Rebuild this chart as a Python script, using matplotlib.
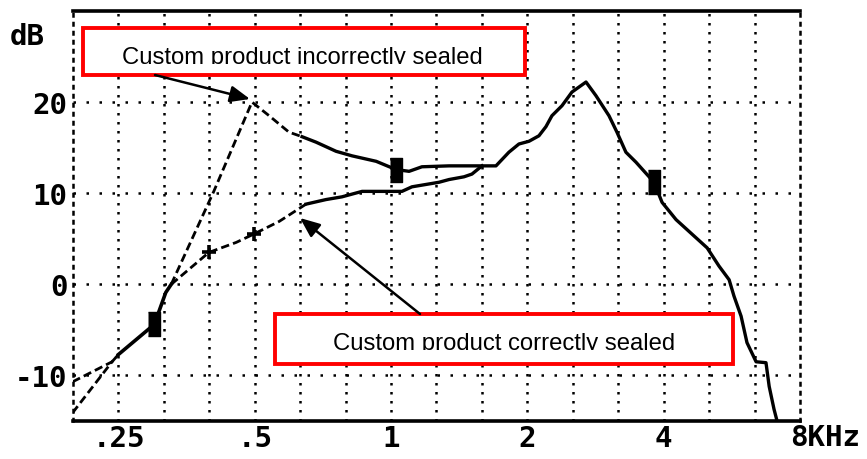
import numpy as np
import matplotlib
matplotlib.use('Agg')
import matplotlib.pyplot as plt
from matplotlib.patches import Rectangle, FancyArrowPatch
from matplotlib.transforms import Bbox, TransformedBbox

# Incorrectly sealed product (upper curve between .3 and 1.6 kHz)
bad_khz = [0.198, 0.242, 0.25, 0.30, 0.318, 0.327, 0.406, 0.493, 0.538, 0.595,
           0.636, 0.683, 0.756, 0.82, 0.927, 1.025, 1.096, 1.17, 1.343, 1.588]
bad_db = [-14.1, -8.5, -7.7, -4.4, -0.9, 0.0, 10.2, 20.0, 18.5, 16.7,
          16.2, 15.6, 14.6, 14.1, 13.5, 12.6, 12.4, 12.9, 13.0, 13.0]

# Correctly sealed product (lower curve)
good_khz = [0.198, 0.242, 0.25, 0.30, 0.318, 0.327, 0.396, 0.455, 0.497, 0.566,
            0.649, 0.718, 0.779, 0.863, 1.057, 1.112, 1.276, 1.343, 1.449, 1.509, 1.588]
good_db = [-10.7, -8.5, -7.7, -4.4, -0.9, 0.0, 3.5, 4.6, 5.5, 6.9,
           8.8, 9.3, 9.6, 10.2, 10.2, 10.7, 11.2, 11.5, 11.8, 12.1, 13.0]

# Shared high frequency part of both curves
tail_khz = [1.705, 1.821, 1.916, 2.017, 2.121, 2.198, 2.266, 2.385, 2.509, 2.695,
            2.835, 3.029, 3.154, 3.301, 3.475, 3.808, 3.967, 4.26, 4.622, 4.99,
            5.30, 5.58, 5.72, 5.93, 6.11, 6.40, 6.73, 6.84, 7.01, 7.12]
tail_db = [13.0, 14.5, 15.4, 15.7, 16.3, 17.3, 18.5, 19.6, 21.1, 22.2,
           20.7, 18.5, 16.7, 14.5, 13.4, 11.2, 9.0, 7.1, 5.5, 4.0,
           2.0, 0.5, -1.3, -3.5, -6.4, -8.5, -8.6, -11.2, -13.7, -15.0]

# Cursor markers
square_khz = [0.30, 1.025, 3.808]
square_db = [-4.4, 12.6, 11.2]
plus_khz = [0.396, 0.497]
plus_db = [3.5, 5.5]

x_ticks = [0.25, 0.5, 1, 2, 4]
x_labels = ['.25', '.5', '1', '2', '4']
y_ticks = [-10, 0, 10, 20]
y_labels = ['-10', '0', '10', '20']

fig = plt.figure(figsize=(8.67, 4.6), dpi=100)
ax = fig.add_axes([0.0842, 0.0826, 0.8385, 0.8914])
ax.set_xscale('log', base=2)
ax.set_xlim(0.25 * 2 ** (-1 / 3), 8)
ax.set_ylim(-15, 30)

# dotted grid, one vertical line every third octave
for k in range(0, 15):
    ax.axvline(0.25 * 2 ** (k / 3), color='black', lw=1.8, ls=(0, (1, 2.6)), zorder=1)
for v in y_ticks:
    ax.axhline(v, color='black', lw=1.8, ls=(0, (1, 4.2)), zorder=1)

# curves: dashed where the trace is sparse, solid where it is dense
dash = (0, (3, 1.5))
ax.plot(bad_khz[:3], bad_db[:3], color='black', lw=2, ls=dash, zorder=3)
ax.plot(bad_khz[5:11], bad_db[5:11], color='black', lw=2, ls=dash, zorder=3)
ax.plot(bad_khz[10:] + tail_khz, bad_db[10:] + tail_db, color='black', lw=2.4, zorder=3)
ax.plot(good_khz[:3], good_db[:3], color='black', lw=2, ls=dash, zorder=3)
ax.plot(good_khz[5:11], good_db[5:11], color='black', lw=2, ls=dash, zorder=3)
ax.plot(good_khz[2:6], good_db[2:6], color='black', lw=2.6, zorder=3)
ax.plot(good_khz[10:], good_db[10:], color='black', lw=2.4, zorder=3)

rect = [(-0.55, -1), (0.55, -1), (0.55, 1), (-0.55, 1)]
ax.plot(square_khz, square_db, ls='none', marker=rect, markersize=17,
        color='black', zorder=4)
ax.plot(plus_khz, plus_db, ls='none', marker='+', markersize=10, mew=2.6,
        color='black', zorder=4)

# frame: solid top/bottom, dotted sides
for s in ['top', 'bottom']:
    ax.spines[s].set_linewidth(2.6)
for s in ['left', 'right']:
    ax.spines[s].set_linewidth(1.8)
    ax.spines[s].set_linestyle((0, (1, 2.6)))

tick_font = dict(family='DejaVu Sans Mono', weight='bold', size=21)
ax.set_xticks(x_ticks)
ax.set_xticklabels(x_labels, **tick_font)
ax.set_xticks([], minor=True)
ax.set_yticks(y_ticks)
ax.set_yticklabels(y_labels, **tick_font)
ax.tick_params(length=0, pad=2)
ax.tick_params(axis='y', pad=4)
ax.annotate('8KHz', xy=(8, 0), xycoords=('data', 'axes fraction'),
            xytext=(-7, -1.5), textcoords='offset points', ha='left', va='top',
            **tick_font)
fig.text(10 / 867, 1 - 23 / 460, 'dB', ha='left', va='top', **tick_font)

# callout boxes
boxes = [
    (83, 29, 525, 76, 122, 64, 'Custom product incorrectly sealed'),
    (275, 315, 733, 365, 333, 350, 'Custom product correctly sealed'),
]
W, H = 867, 460
for x0, y0, x1, y1, tx, ty, label in boxes:
    fig.add_artist(Rectangle((x0 / W, 1 - y1 / H), (x1 - x0) / W, (y1 - y0) / H,
                             transform=fig.transFigure, facecolor='white',
                             edgecolor='#ff0000', lw=2.8, zorder=5))
    t = fig.text(tx / W, 1 - ty / H, label, ha='left', va='baseline',
                 family='Liberation Sans', size=17.2, zorder=6)
    t.set_clip_box(TransformedBbox(Bbox([[x0 / W, 1 - (ty + 1) / H], [x1 / W, 1 - y0 / H]]),
                                   fig.transFigure))
    t.set_clip_on(True)

# arrows from boxes to curves
arrows = [((155, 76), (250, 100)), ((420, 315), (300, 219))]
for (sx, sy), (ex, ey) in arrows:
    fig.add_artist(FancyArrowPatch((sx / W, 1 - sy / H), (ex / W, 1 - ey / H),
                                   transform=fig.transFigure,
                                   arrowstyle='-|>,head_length=0.6,head_width=0.25',
                                   mutation_scale=20, lw=1.8, color='black',
                                   shrinkA=0, shrinkB=0, zorder=7))

fig.savefig('out.png', dpi=100)
